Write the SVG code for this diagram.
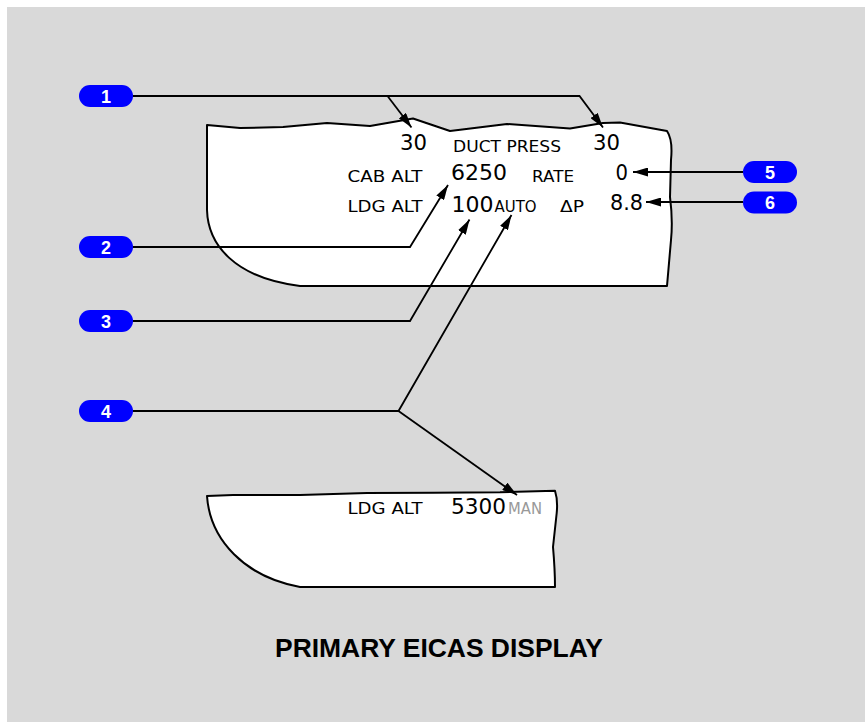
<svg xmlns="http://www.w3.org/2000/svg" width="865" height="722" viewBox="0 0 865 722">
<style>
.panel{fill:#fff;stroke:#000;stroke-width:2;stroke-linejoin:round}
.lbl{font-family:"DejaVu Sans","Liberation Sans",sans-serif;font-size:16.5px;fill:#000}
.num{font-family:"DejaVu Sans","Liberation Sans",sans-serif;font-size:21.5px;fill:#000}
.conn{fill:none;stroke:#000;stroke-width:1.8}
.badge{fill:#0000ff}
.btxt{font-family:"Liberation Sans",Arial,sans-serif;font-size:18px;font-weight:bold;fill:#fff;text-anchor:middle}
.title{font-family:"Liberation Sans",Arial,sans-serif;font-size:25px;font-weight:bold;fill:#000}
</style>
<defs>
<marker id="ah" viewBox="0 0 15 9" refX="15" refY="4.5" markerWidth="15" markerHeight="9" markerUnits="userSpaceOnUse" orient="auto">
<path d="M0,0 L15,4.5 L0,9 Z" fill="#000"/>
</marker>
</defs>
<rect x="7" y="7" width="858" height="715" fill="#d9d9d9"/>

<g id="upper-panel">
<path class="panel" d="M207,125 L240,128 L283,127 L327,123 L370,126 L413,118.5 L450,131 L507,124 L570,128.5 L603,123 L620,122.5 L667,131 Q673,140 671,160 L670,197 Q673,220 671,240 L667,286 L300,286 C235,278 208,245 207,210 Z"/>
<text class="num" x="400" y="150" textLength="27" lengthAdjust="spacingAndGlyphs">30</text>
<text class="lbl" x="453" y="151.5" textLength="108" lengthAdjust="spacingAndGlyphs">DUCT PRESS</text>
<text class="num" x="593" y="150" textLength="27" lengthAdjust="spacingAndGlyphs">30</text>
<text class="lbl" x="347.5" y="181.5" textLength="75" lengthAdjust="spacingAndGlyphs">CAB ALT</text>
<text class="num" x="451" y="180" textLength="56" lengthAdjust="spacingAndGlyphs">6250</text>
<text class="lbl" x="532" y="181.5" textLength="42" lengthAdjust="spacingAndGlyphs">RATE</text>
<text class="num" x="615.5" y="180" textLength="12.5" lengthAdjust="spacingAndGlyphs">0</text>
<text class="lbl" x="347.5" y="211.5" textLength="75" lengthAdjust="spacingAndGlyphs">LDG ALT</text>
<text class="num" x="451.5" y="211.5" textLength="42" lengthAdjust="spacingAndGlyphs">100</text>
<text class="lbl" x="494.5" y="211.5" textLength="42" lengthAdjust="spacingAndGlyphs">AUTO</text>
<text class="lbl" x="560" y="211.5" textLength="24" lengthAdjust="spacingAndGlyphs">ΔP</text>
<text class="num" x="610" y="210" textLength="33" lengthAdjust="spacingAndGlyphs">8.8</text>
</g>

<g id="lower-panel">
<path class="panel" d="M207,496 L233,495 L300,495 L367,493 L433,492.7 L500,492.3 L555,490.7 Q558,500 556.7,513 L553,547 Q555,570 555,587 L300,587 C245,577 210,540 207,496 Z"/>
<text class="lbl" x="347.5" y="514" textLength="75" lengthAdjust="spacingAndGlyphs">LDG ALT</text>
<text class="num" x="451" y="514" font-size="24" textLength="55" lengthAdjust="spacingAndGlyphs">5300</text>
<text class="lbl" x="508" y="514" style="fill:#999" textLength="34" lengthAdjust="spacingAndGlyphs">MAN</text>
</g>

<g id="connectors">
<polyline class="conn" points="133,96 579.5,96 603,127.5" marker-end="url(#ah)"/>
<polyline class="conn" points="387.5,96 411.5,127.5" marker-end="url(#ah)"/>
<polyline class="conn" points="133,247 410,247 448,185" marker-end="url(#ah)"/>
<polyline class="conn" points="133,321 410,321 469.5,219.5" marker-end="url(#ah)"/>
<polyline class="conn" points="133,411 398.5,411 511.5,215" marker-end="url(#ah)"/>
<polyline class="conn" points="398.5,411 517,495" marker-end="url(#ah)"/>
<polyline class="conn" points="743,172 633,172" marker-end="url(#ah)"/>
<polyline class="conn" points="743,202 646,202" marker-end="url(#ah)"/>
</g>

<g id="badge-1"><rect class="badge" x="79" y="85" width="54" height="22" rx="11"/><text class="btxt" x="106" y="102.5">1</text></g>
<g id="badge-2"><rect class="badge" x="79" y="236" width="54" height="22" rx="11"/><text class="btxt" x="106" y="253.5">2</text></g>
<g id="badge-3"><rect class="badge" x="79" y="310" width="54" height="22" rx="11"/><text class="btxt" x="106" y="327.5">3</text></g>
<g id="badge-4"><rect class="badge" x="79" y="400" width="54" height="22" rx="11"/><text class="btxt" x="106" y="417.5">4</text></g>
<g id="badge-5"><rect class="badge" x="743" y="161" width="54" height="22" rx="11"/><text class="btxt" x="770" y="178.5">5</text></g>
<g id="badge-6"><rect class="badge" x="743" y="191.5" width="54" height="22" rx="11"/><text class="btxt" x="770" y="209">6</text></g>

<text class="title" x="275" y="657" textLength="328" lengthAdjust="spacingAndGlyphs">PRIMARY EICAS DISPLAY</text>
</svg>
